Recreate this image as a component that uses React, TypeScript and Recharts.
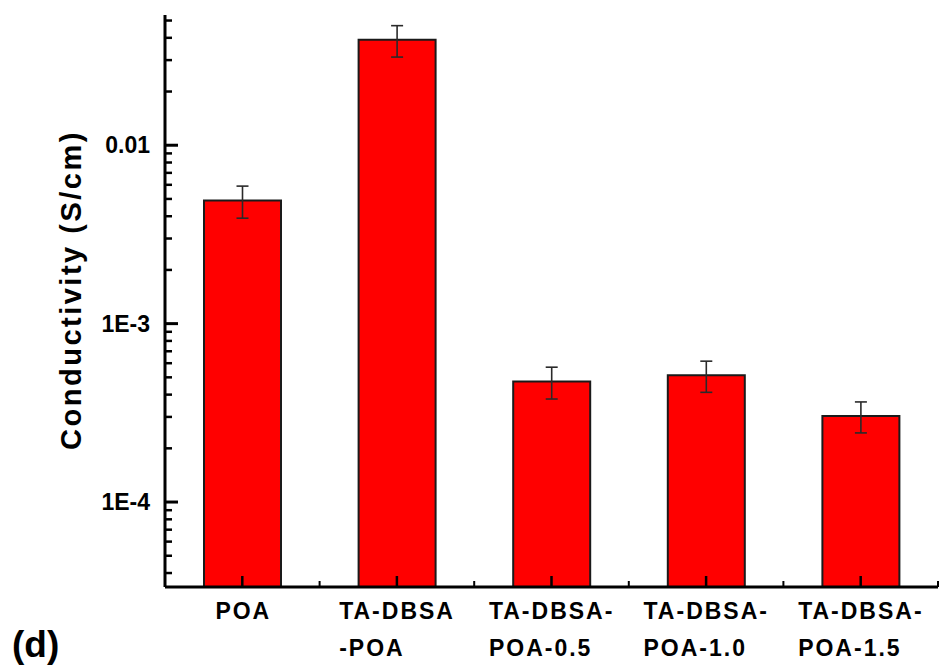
import React from 'react';
import { BarChart, Bar, XAxis, YAxis, ErrorBar } from 'recharts';

const categories = ['POA', 'TA-DBSA-POA', 'TA-DBSA-POA-0.5', 'TA-DBSA-POA-1.0', 'TA-DBSA-POA-1.5'];
const labelLine1 = ['POA', 'TA-DBSA', 'TA-DBSA-', 'TA-DBSA-', 'TA-DBSA-'];
const labelLine2 = ['', '-POA', 'POA-0.5', 'POA-1.0', 'POA-1.5'];
const conductivity = [0.0049, 0.039, 4.74e-4, 5.14e-4, 3.04e-4];
const conductivityErr = [0.001, 0.0078, 9.6e-5, 1.02e-4, 6.0e-5];

const yDomain = [3.34e-5, 0.0537];
const yTicks = [
  4e-5, 5e-5, 6e-5, 7e-5, 8e-5, 9e-5,
  1e-4, 2e-4, 3e-4, 4e-4, 5e-4, 6e-4, 7e-4, 8e-4, 9e-4,
  1e-3, 2e-3, 3e-3, 4e-3, 5e-3, 6e-3, 7e-3, 8e-3, 9e-3,
  1e-2, 2e-2, 3e-2, 4e-2, 5e-2,
];
const yMajorTicks = [1e-4, 1e-3, 1e-2];
const yMajorLabels = ['1E-4', '1E-3', '0.01'];

const data = categories.map((c, i) => ({
  name: c,
  value: conductivity[i],
  err: conductivityErr[i],
}));

const FONT = '"Liberation Sans", Arial, Helvetica, sans-serif';

const glyph: Record<string, number> = {
  T: 0.611, A: 0.722, '-': 0.333, D: 0.722, B: 0.722, S: 0.667, P: 0.667, O: 0.778,
  '0': 0.556, '1': 0.556, '5': 0.556, '.': 0.278,
};
const X_FONT = 23;
const X_SPACING = 2;
const textWidth = (s: string) =>
  s.split('').reduce((a, ch) => a + (glyph[ch] ?? 0.6) * X_FONT, 0) + (s.length - 1) * X_SPACING;

const isMajor = (v: number) => yMajorTicks.some((m) => Math.abs(m - v) / m < 1e-6);

const YTick = (props: any) => {
  const { x, y, payload } = props;
  const v = payload.value as number;
  const major = isMajor(v);
  const idx = yMajorTicks.findIndex((m) => Math.abs(m - v) / m < 1e-6);
  return (
    <g>
      <line x1={x} x2={x + (major ? 13 : 7)} y1={y} y2={y} stroke="#000" strokeWidth={major ? 3 : 2.5} />
      {major && (
        <text
          x={x - 15}
          y={y + 8}
          textAnchor="end"
          fontFamily={FONT}
          fontWeight="bold"
          fontSize={23}
          fill="#000"
        >
          {yMajorLabels[idx]}
        </text>
      )}
    </g>
  );
};

const XTick = (props: any) => {
  const { x, y, payload, index } = props;
  const half = payload && payload.offset ? payload.offset : 77.3;
  const l1 = labelLine1[index] ?? '';
  const l2 = labelLine2[index] ?? '';
  const left = x - textWidth(l1) / 2;
  return (
    <g>
      <line x1={x} x2={x} y1={y} y2={y - 11} stroke="#000" strokeWidth={2.5} />
      <line x1={x + half} x2={x + half} y1={y} y2={y - 6} stroke="#000" strokeWidth={2} />
      <text
        x={left}
        y={y + 32}
        textAnchor="start"
        fontFamily={FONT}
        fontWeight="bold"
        fontSize={X_FONT}
        letterSpacing={X_SPACING}
        fill="#000"
      >
        {l1}
      </text>
      {l2 && (
        <text
          x={left}
          y={y + 69}
          textAnchor="start"
          fontFamily={FONT}
          fontWeight="bold"
          fontSize={X_FONT}
          letterSpacing={X_SPACING}
          fill="#000"
        >
          {l2}
        </text>
      )}
    </g>
  );
};

export default function App() {
  return (
    <div style={{ position: 'absolute', left: 0, top: 0, width: 943, height: 666, background: '#fff' }}>
      <BarChart
        width={943}
        height={666}
        data={data}
        margin={{ top: 15, right: 5, bottom: 0, left: 0 }}
      >
        <XAxis
          dataKey="name"
          height={79}
          interval={0}
          tickSize={0}
          tickMargin={0}
          tickLine={false}
          axisLine={{ stroke: '#000', strokeWidth: 3 }}
          tick={(p: any) => <XTick {...p} />}
        />
        <YAxis
          width={165}
          scale="log"
          domain={yDomain}
          allowDataOverflow
          ticks={yTicks}
          interval={0}
          tickSize={0}
          tickMargin={0}
          tickLine={false}
          axisLine={{ stroke: '#000', strokeWidth: 3 }}
          tick={(p: any) => <YTick {...p} />}
        />
        <Bar
          dataKey="value"
          fill="#ff0000"
          stroke="#1a1a1a"
          strokeWidth={2}
          barSize={77}
          isAnimationActive={false}
        >
          <ErrorBar dataKey="err" width={6} stroke="#2a2a2a" strokeWidth={1.6} direction="y" />
        </Bar>
      </BarChart>
      <svg
        width={943}
        height={666}
        style={{ position: 'absolute', left: 0, top: 0, pointerEvents: 'none' }}
      >
        <text
          x={81}
          y={290}
          transform="rotate(-90, 81, 290)"
          textAnchor="middle"
          fontFamily={FONT}
          fontWeight="bold"
          fontSize={29}
          letterSpacing={2.5}
          fill="#000"
        >
          Conductivity (S/cm)
        </text>
        <text x={12} y={657} fontFamily={FONT} fontWeight="bold" fontSize={37} fill="#000">
          (d)
        </text>
      </svg>
    </div>
  );
}
